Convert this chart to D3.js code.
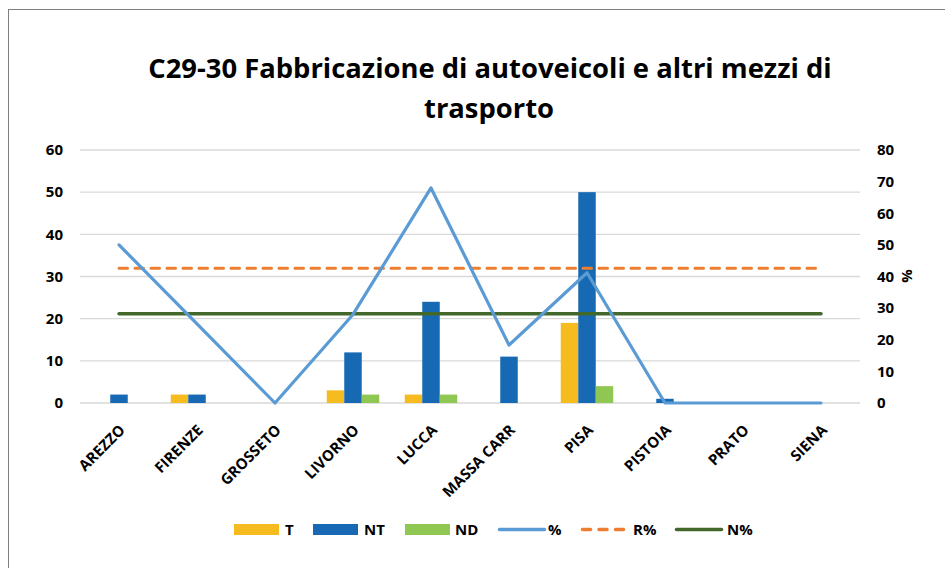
<!DOCTYPE html>
<html>
<head>
<meta charset="utf-8">
<script src="https://cdn.jsdelivr.net/npm/d3@7"></script>
<style>
  html, body { margin: 0; padding: 0; background: #fff; }
  svg { display: block; }
  text { font-family: "Open Sans", "Liberation Sans", sans-serif; font-weight: bold; fill: #000; }
</style>
</head>
<body>
<svg id="chart" width="945" height="568"></svg>
<script>
const categories = ["AREZZO","FIRENZE","GROSSETO","LIVORNO","LUCCA","MASSA CARR","PISA","PISTOIA","PRATO","SIENA"];
const seriesT  = [0, 2, 0, 3, 2, 0, 19, 0, 0, 0];
const seriesNT = [2, 2, 0, 12, 24, 11, 50, 1, 0, 0];
const seriesND = [0, 0, 0, 2, 2, 0, 4, 0, 0, 0];
const seriesPct  = [50, 25, 0, 28, 68, 18.3, 41.2, 0, 0, 0];
const seriesRPct = [42.6, 42.6, 42.6, 42.6, 42.6, 42.6, 42.6, 42.6, 42.6, 42.6];
const seriesNPct = [28.2, 28.2, 28.2, 28.2, 28.2, 28.2, 28.2, 28.2, 28.2, 28.2];
const leftTicks  = [0, 10, 20, 30, 40, 50, 60];
const rightTicks = [0, 10, 20, 30, 40, 50, 60, 70, 80];
const barSeries = ["T", "NT", "ND"];
const legendLabels = ["T", "NT", "ND", "%", "R%", "N%"];
const titleLines = ["C29-30 Fabbricazione di autoveicoli e altri mezzi di", "trasporto"];

const colors = { T: "#F5BB1F", NT: "#1769B3", ND: "#8FC752", pct: "#5B9BD5", rpct: "#ED7D31", npct: "#43682B" };

const svg = d3.select("#chart");

// chart border
svg.append("rect").attr("x", 8.5).attr("y", 9.5).attr("width", 1000).attr("height", 700)
  .attr("fill", "none").attr("stroke", "#7f7f7f").attr("stroke-width", 1);

const plot = { left: 80, right: 860, top: 150, bottom: 403 };

const x = d3.scaleBand().domain(categories).range([plot.left, plot.right]).paddingInner(0).paddingOuter(0);
const xSub = d3.scaleBand().domain(barSeries).range([0, x.bandwidth()]).paddingInner(0).paddingOuter(0.729);
const yL = d3.scaleLinear().domain([0, 60]).range([plot.bottom, plot.top]);
const yR = d3.scaleLinear().domain([0, 80]).range([plot.bottom, plot.top]);

// gridlines
svg.append("g").selectAll("line").data(leftTicks).join("line")
  .attr("x1", plot.left).attr("x2", plot.right)
  .attr("y1", d => yL(d)).attr("y2", d => yL(d))
  .attr("stroke", "#D9D9D9").attr("stroke-width", 1.3);

// left axis
const leftAxis = svg.append("g").attr("transform", `translate(${plot.left - 17},0)`)
  .call(d3.axisLeft(yL).tickValues(leftTicks).tickSize(0).tickPadding(0));
leftAxis.select(".domain").remove();
leftAxis.selectAll("text").style("font-size", "15px").style("font-family", "'Open Sans', sans-serif").style("font-weight", "bold").attr("fill", "#000");

// right axis
const rightAxis = svg.append("g").attr("transform", `translate(${plot.right + 17},0)`)
  .call(d3.axisRight(yR).tickValues(rightTicks).tickSize(0).tickPadding(0));
rightAxis.select(".domain").remove();
rightAxis.selectAll("text").style("font-size", "15px").style("font-family", "'Open Sans', sans-serif").style("font-weight", "bold").attr("fill", "#000");

svg.append("text").attr("transform", `translate(912,276) rotate(-90)`)
  .attr("text-anchor", "middle").style("font-size", "15px").text("%");

// bars
const barData = categories.map((c, i) => ({ c, T: seriesT[i], NT: seriesNT[i], ND: seriesND[i] }));
const groups = svg.append("g").selectAll("g").data(barData).join("g")
  .attr("transform", d => `translate(${x(d.c)},0)`);
groups.selectAll("rect").data(d => barSeries.map(k => ({ k, v: d[k] })).filter(e => e.v > 0)).join("rect")
  .attr("x", e => xSub(e.k)).attr("width", xSub.bandwidth())
  .attr("y", e => yL(e.v)).attr("height", e => yL(0) - yL(e.v))
  .attr("fill", e => colors[e.k]);

// lines
const cx = c => x(c) + x.bandwidth() / 2;
const mkLine = arr => d3.line().x((d, i) => cx(categories[i])).y(d => yR(d))(arr);

svg.append("path").attr("d", mkLine(seriesNPct)).attr("fill", "none")
  .attr("stroke", colors.npct).attr("stroke-width", 3.5).attr("stroke-linecap", "round");
svg.append("path").attr("d", mkLine(seriesRPct)).attr("fill", "none")
  .attr("stroke", colors.rpct).attr("stroke-width", 3).attr("stroke-dasharray", "8.5,7.5").attr("stroke-linecap", "round");
svg.append("path").attr("d", mkLine(seriesPct)).attr("fill", "none")
  .attr("stroke", colors.pct).attr("stroke-width", 3.2).attr("stroke-linejoin", "round").attr("stroke-linecap", "round");

// x labels
svg.append("g").selectAll("text").data(categories).join("text")
  .attr("transform", c => `translate(${cx(c) + 7},431) rotate(-45)`)
  .attr("text-anchor", "end").style("font-size", "15px").text(c => c);

// title
const t1 = svg.append("text").attr("x", 490).attr("y", 78).attr("text-anchor", "middle")
  .style("font-size", "26px").text(titleLines[0]);
const len = t1.node().getComputedTextLength();
const fs = 26 * 684 / len;
t1.style("font-size", fs + "px");
svg.append("text").attr("x", 489).attr("y", 118).attr("text-anchor", "middle")
  .style("font-size", fs + "px").text(titleLines[1]);

// legend
const legend = svg.append("g");
const legX = [234, 313, 405, 498, 581, 675];
const legTX = [285, 364, 455, 548, 633, 727];
legendLabels.forEach((lab, i) => {
  if (i < 3) {
    legend.append("rect").attr("x", legX[i]).attr("y", 524).attr("width", 45).attr("height", 11)
      .attr("fill", colors[barSeries[i]]);
  } else {
    const col = [colors.pct, colors.rpct, colors.npct][i - 3];
    const ln = legend.append("line").attr("x1", legX[i] + 1.5).attr("x2", legX[i] + 46.5)
      .attr("y1", 529.5).attr("y2", 529.5).attr("stroke", col).attr("stroke-width", 3.5).attr("stroke-linecap", "round");
    if (i === 4) ln.attr("stroke-dasharray", "8,8.5");
  }
  legend.append("text").attr("x", legTX[i]).attr("y", 535).style("font-size", "15px").text(lab);
});
</script>
</body>
</html>
